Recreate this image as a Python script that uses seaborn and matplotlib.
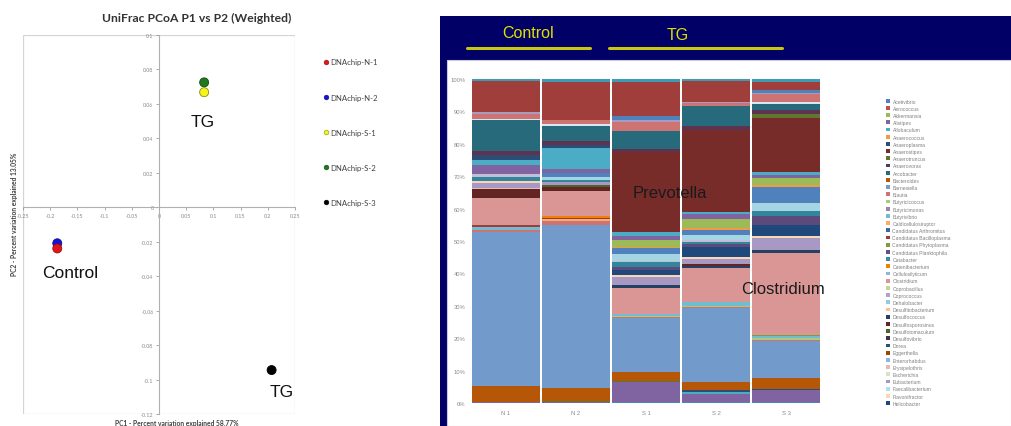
import matplotlib
matplotlib.use("Agg")
import matplotlib.pyplot as plt
from matplotlib.patches import Rectangle, Patch
from matplotlib.lines import Line2D
import numpy as np
import pandas as pd
import seaborn as sns

# ---------------- PCoA data ----------------
pcoa_samples = ["DNAchip-N-1", "DNAchip-N-2", "DNAchip-S-1", "DNAchip-S-2", "DNAchip-S-3"]
pc1 = [-0.187, -0.187, 0.083, 0.083, 0.207]
pc2 = [-0.0239, -0.0209, 0.0668, 0.0725, -0.0945]
pcoa_colors = ["#E3141B", "#1414D8", "#F5F51E", "#1F7A1F", "#000000"]
pcoa_edges = ["#9A1010", "#10108A", "#8A8A10", "#104A10", "#000000"]

x_ticks = [-0.25, -0.2, -0.15, -0.1, -0.05, 0, 0.05, 0.1, 0.15, 0.2, 0.25]
x_tick_labels = ["-0.25", "-0.2", "-0.15", "-0.1", "-0.05", "0", "0.05", "0.1", "0.15", "0.2", "0.25"]
y_ticks = [-0.12, -0.1, -0.08, -0.06, -0.04, -0.02, 0, 0.02, 0.04, 0.06, 0.08, 0.1]
y_tick_labels = ["-0.12", "-0.1", "-0.08", "-0.06", "-0.04", "-0.02", "0", "0.02", "0.04", "0.06", "0.08", "0.1"]

# ---------------- genus composition (%) ----------------
bar_samples = ["N 1", "N 2", "S 1", "S 2", "S 3"]

taxa = [
    "Acetivibrio", "Aerococcus", "Akkermansia", "Alistipes", "Allobaculum", "Anaerococcus",
    "Anaeroplasma", "Anaerostipes", "Anaerotruncus", "Anaerovorax", "Arcobacter", "Bacteroides",
    "Barnesiella", "Blautia", "Butyricicoccus", "Butyricimonas", "Butyrivibrio", "Caldicellulosiruptor",
    "Candidatus Arthromitus", "Candidatus Bacilloplasma", "Candidatus Phytoplasma",
    "Candidatus Planktophila", "Catabacter", "Catenibacterium",
    "Cellulosilyticum", "Clostridium", "Coprobacillus", "Coprococcus", "Dehalobacter", "Desulfitobacterium",
    "Desulfococcus", "Desulfosporosinus", "Desulfotomaculum", "Desulfovibrio", "Dorea", "Eggerthella",
    "Enterorhabdus", "Erysipelothrix", "Escherichia", "Eubacterium", "Faecalibacterium", "Flavonifractor",
    "Helicobacter",
    "Holdemania", "Lachnospira", "Lactobacillus", "Lactococcus", "Mucispirillum", "Odoribacter",
    "Oscillibacter", "Papillibacter", "Parabacteroides", "Parasutterella", "Prevotella", "Pseudoflavonifractor",
    "Roseburia", "Ruminococcus", "Sporobacter", "Streptococcus", "Subdoligranulum", "Syntrophococcus",
    "Turicibacter", "Victivallis",
]

taxa_colors = [
    "#4F81BD", "#C0504D", "#9BBB59", "#8064A2", "#4BACC6", "#F79646",
    "#2C4D75", "#772C2A", "#5F7530", "#4D3B62", "#276A7C", "#B65708",
    "#729ACA", "#CD7371", "#AFC97A", "#9983B5", "#6FBDD1", "#F9AB6B",
    "#3A679C", "#9F3B38", "#7E9D40", "#664F83", "#358DA6", "#F07F09",
    "#95B3D7", "#D99694", "#C3D69B", "#B3A2C7", "#93CDDD", "#FAC090",
    "#254061", "#632523", "#4F6228", "#3F3151", "#215968", "#984807",
    "#8EB4E3", "#E6B9B8", "#D7E4BD", "#A898C4", "#B7DEE8", "#FCD5B5",
    "#1F497D",
    "#5C4A7D", "#31859C", "#C4BDD6", "#A5D5E2", "#4F81BD", "#F79646",
    "#9BBB59", "#8064A2", "#4BACC6", "#2C4D75", "#772C2A", "#5F7530",
    "#5E3350", "#276A7C", "#DCE6F2", "#CD7371", "#A79BC2", "#4F81BD",
    "#A03E3B", "#3D9CB5",
]

n1 = [0.1, 0, 0, 0.2, 0, 0,
      0, 0, 0, 0, 0, 4.9,
      47.6, 0.6, 0, 0, 1.0, 0,
      0, 0.5, 0, 0, 0, 0,
      0, 8.5, 0, 0, 0, 0,
      0, 2.6, 0, 0, 0, 0,
      0, 0.3, 0, 1.7, 0, 0.5,
      0,
      0, 1.3, 1.0, 0, 0, 0,
      0, 2.7, 1.5, 1.4, 0, 0,
      1.3, 9.8, 0.3, 1.3, 0.8, 0,
      9.4, 0.7]

n2 = [0.1, 0, 0, 0.3, 0, 0,
      0, 0, 0.1, 0, 0, 4.1,
      50.3, 1.2, 0, 0, 0, 0.6,
      0, 0.4, 0, 0, 0, 0.6,
      0, 7.6, 0, 0, 0, 0,
      0, 1.4, 0.6, 0, 0, 0,
      0, 0, 0, 1.0, 0, 0,
      0,
      0, 0.6, 0, 0.7, 1.5, 0,
      0, 1.2, 6.4, 0.8, 0, 0,
      1.3, 4.8, 0.5, 1.3, 0, 0,
      11.6, 1.0]

s1 = [0.3, 0, 0, 6.2, 0, 0,
      0, 0, 0.2, 0, 0, 2.9,
      16.5, 0.5, 0.4, 0, 0.6, 0,
      0, 0, 0, 0, 0, 0,
      0, 8.0, 0, 0, 0, 0,
      0.7, 0, 0, 0, 0, 0,
      0, 0, 0, 2.6, 0, 0.5,
      1.5,
      1.0, 1.5, 0.5, 2.0, 1.8, 0.4,
      2.2, 1.2, 1.2, 0, 24.7, 0,
      1.0, 5.7, 0, 2.6, 0.8, 1.0,
      10.5, 1.0]

s2 = [0.3, 0, 0, 2.6, 0.5, 0,
      0.5, 0, 0, 0, 0, 2.6,
      22.8, 0.3, 0.3, 0, 1.2, 0,
      0, 0, 0, 0, 0, 0,
      0, 10.5, 0, 0, 0, 0,
      0.8, 0.5, 0, 0, 0, 0,
      0, 0, 0, 1.5, 0, 0.8,
      2.8,
      1.0, 0.7, 0.6, 1.4, 1.8, 0.5,
      2.8, 1.6, 0.7, 0, 25.2, 0,
      1.2, 6.2, 0, 0.8, 0.5, 0,
      6.5, 0.5]

s3 = [0.3, 0, 0, 3.6, 0, 0,
      0.5, 0, 0, 0, 0, 3.3,
      11.3, 0.4, 0.6, 0, 0.6, 0,
      0, 0, 0.4, 0, 0, 0,
      0, 25.3, 0, 0, 0, 0,
      1.0, 0, 0, 0, 0, 0,
      0, 0, 0, 3.5, 0, 0.8,
      3.3,
      2.9, 1.5, 0, 2.4, 5.0, 0.5,
      2.1, 1.1, 1.0, 0, 16.5, 1.2,
      1.3, 2.0, 0.5, 2.5, 0.4, 0.8,
      2.6, 0.8]

legend_count = 43  # entries that fit in the legend box

# ---------------- figure ----------------
sns.set_theme(style="white")
plt.rcParams["font.family"] = ["Liberation Sans", "DejaVu Sans"]

W, H = 1011, 427
fig = plt.figure(figsize=(W / 100, H / 100), dpi=100)
fig.patch.set_facecolor("white")


def fx(px):
    return px / W


def fy(py):
    return 1 - py / H


# ---------- left: PCoA scatter ----------
ax1 = fig.add_axes([fx(23), fy(415), fx(295) - fx(23), fy(36) - fy(415)])
pcoa_df = pd.DataFrame({"sample": pcoa_samples, "PC1": pc1, "PC2": pc2})
sns.scatterplot(data=pcoa_df.iloc[::-1], x="PC1", y="PC2", hue="sample",
                hue_order=pcoa_samples, palette=pcoa_colors, s=42,
                edgecolor=pcoa_edges[::-1], linewidth=0.6, legend=False,
                ax=ax1, zorder=5)
ax1.set_xlim(-0.25, 0.25)
ax1.set_ylim(-0.12, 0.1)
ax1.set_xlabel("")
ax1.set_ylabel("")
ax1.set_xticks(x_ticks)
ax1.set_xticklabels(x_tick_labels)
ax1.set_yticks(y_ticks)
ax1.set_yticklabels(y_tick_labels)
ax1.spines["left"].set_position(("data", 0))
ax1.spines["bottom"].set_position(("data", 0))
for side in ("left", "bottom"):
    ax1.spines[side].set_color("#B0B0B0")
    ax1.spines[side].set_linewidth(0.8)
for side in ("top", "right"):
    ax1.spines[side].set_visible(False)
ax1.add_patch(Rectangle((0, 0), 1, 1, transform=ax1.transAxes, fill=False,
                        edgecolor="#D4D4D4", linewidth=0.9, zorder=0))
ax1.tick_params(axis="both", labelsize=3.9, colors="#8A8A8A", length=2,
                width=0.5, direction="out", pad=2, left=True, bottom=True)
for lab in ax1.get_xticklabels() + ax1.get_yticklabels():
    lab.set_fontfamily(["Lato", "DejaVu Sans"])

ax1.text(0.081, 0.050, "TG", ha="center", va="center", fontsize=12.5, color="#111111")
ax1.text(-0.164, -0.038, "Control", ha="center", va="center", fontsize=12.5, color="#111111")
ax1.text(0.226, -0.107, "TG", ha="center", va="center", fontsize=12.5, color="#111111")

fig.text(fx(197), fy(18), "UniFrac PCoA P1 vs P2 (Weighted)", ha="center", va="center",
         fontsize=8.7, fontweight="bold", color="#333333", family=["Lato", "DejaVu Sans"])
fig.text(fx(15), fy(214), "PC2 - Percent variation explained 13.05%", rotation=90,
         ha="center", va="center", fontsize=4.8, fontweight="bold", color="#404040",
         family=["Lato", "DejaVu Sans"])
fig.text(fx(177), fy(424), "PC1 - Percent variation explained 58.77%", ha="center",
         va="center", fontsize=4.8, fontweight="bold", color="#404040",
         family=["Lato", "DejaVu Sans"])

pcoa_handles = [Line2D([], [], marker="o", linestyle="", markersize=3.4,
                       markerfacecolor=c, markeredgecolor=e, markeredgewidth=0.4)
                for c, e in zip(pcoa_colors, pcoa_edges)]
fig.legend(pcoa_handles, pcoa_samples, loc="upper left",
           bbox_to_anchor=(fx(324), fy(59.5)), bbox_transform=fig.transFigure,
           frameon=False, labelspacing=3.62, handlelength=0.6,
           handletextpad=0.2, borderpad=0, borderaxespad=0,
           prop={"family": ["Lato", "DejaVu Sans"], "size": 5.6},
           labelcolor="#404040")

# ---------- right: slide panel with stacked composition ----------
fig.add_artist(Rectangle((fx(440), 0), 1 - fx(440), fy(17), transform=fig.transFigure,
                         facecolor="#000066", edgecolor="none", zorder=0))
fig.add_artist(Rectangle((fx(447), 0), 1 - fx(447), fy(61), transform=fig.transFigure,
                         facecolor="white", edgecolor="#C9C9DD", linewidth=0.8, zorder=0))

fig.text(fx(528), fy(34), "Control", ha="center", va="center", fontsize=11.5, color="#E2E200")
fig.text(fx(678), fy(36), "TG", ha="center", va="center", fontsize=11.5, color="#E2E200")
fig.add_artist(Line2D([fx(467), fx(590)], [fy(49), fy(49)], color="#C8C810", linewidth=2.2))
fig.add_artist(Line2D([fx(609), fx(782)], [fy(49), fy(49)], color="#C8C810", linewidth=2.2))

ax2 = fig.add_axes([fx(471), fy(404), fx(821) - fx(471), fy(80) - fy(404)])
comp = pd.DataFrame({"N 1": n1, "N 2": n2, "S 1": s1, "S 2": s2, "S 3": s3}, index=taxa)
long = comp.reset_index(names="taxon").melt(id_vars="taxon", var_name="sample", value_name="pct")
long["sample"] = pd.Categorical(long["sample"], categories=bar_samples, ordered=True)

sns.histplot(data=long, x="sample", hue="taxon", weights="pct", multiple="stack",
             discrete=True, shrink=0.985, hue_order=taxa[::-1],
             palette=dict(zip(taxa, taxa_colors)), alpha=1, linewidth=0,
             legend=False, ax=ax2)
ax2.set_xlim(-0.5, 4.5)
ax2.set_ylim(0, 100)
ax2.set_yticks(np.arange(0, 101, 10))
ax2.set_yticklabels([f"{v}%" for v in range(0, 101, 10)])
ax2.set_xlabel("")
ax2.set_ylabel("")
for s in ax2.spines.values():
    s.set_visible(False)
ax2.tick_params(axis="both", labelsize=4.2, colors="#8A8A8A", length=0)
ax2.tick_params(axis="y", pad=4)
ax2.tick_params(axis="x", pad=5)

ax2.text(1.814, 65.1, "Prevotella", ha="left", va="center", fontsize=12, color="#1A1A1A")
ax2.text(3.357, 35.2, "Clostridium", ha="left", va="center", fontsize=12, color="#1A1A1A")

leg_handles = [Patch(facecolor=c, edgecolor="none") for c in taxa_colors[:legend_count]]
fig.legend(leg_handles, taxa[:legend_count], loc="upper left",
           bbox_to_anchor=(fx(886), fy(99.5)), bbox_transform=fig.transFigure,
           frameon=False, fontsize=3.6, labelspacing=0.44, handlelength=0.8,
           handleheight=0.8, handletextpad=0.5, borderpad=0, borderaxespad=0,
           labelcolor="#808080")

fig.savefig("out.png", dpi=100)
